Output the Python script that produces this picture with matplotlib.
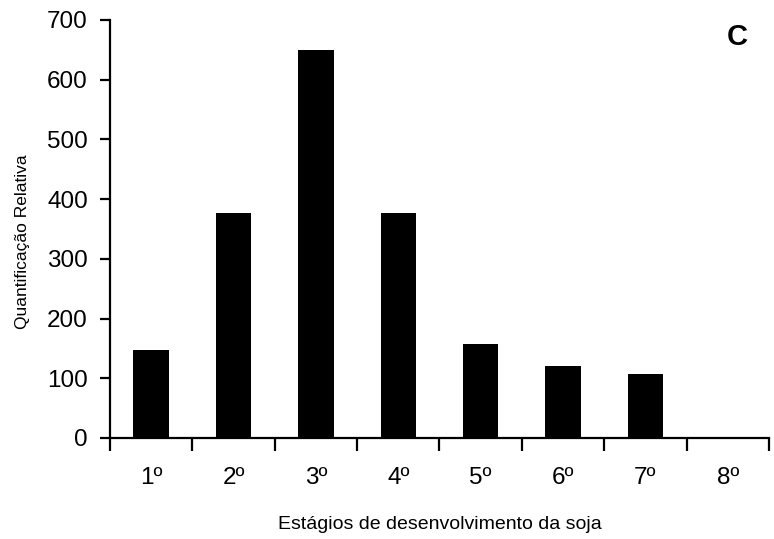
import numpy as np
import matplotlib.pyplot as plt

plt.rcParams['font.family'] = ['Liberation Sans', 'DejaVu Sans']

estagios = ['1º', '2º', '3º', '4º', '5º', '6º', '7º', '8º']
quantificacao = [148, 377, 649, 377, 157, 120, 108, 0]
y_ticks = [0, 100, 200, 300, 400, 500, 600, 700]

fig = plt.figure(figsize=(7.74, 5.39), dpi=100)
ax = fig.add_axes([0.1421, 0.1874, 0.8514, 0.7755])

x = np.arange(len(estagios)) + 0.5
ax.bar(x, quantificacao, width=0.43, color='black')

ax.set_xlim(0, len(estagios))
ax.set_ylim(0, 700)

# tick marks sit on the category boundaries, labels at the centres
ax.set_xticks(np.arange(len(estagios) + 1))
ax.set_xticklabels([])
ax.set_xticks(x, minor=True)
ax.set_xticklabels(estagios, minor=True, fontsize=17.5)
ax.tick_params(axis='x', which='major', direction='out', length=9, width=1.6)
ax.tick_params(axis='x', which='minor', length=0, pad=21)

ax.set_yticks(y_ticks)
ax.set_yticklabels([str(v) for v in y_ticks], fontsize=17.5)
ax.tick_params(axis='y', direction='out', length=7, width=1.6, pad=9)

for side in ['top', 'right']:
    ax.spines[side].set_visible(False)
for side in ['left', 'bottom']:
    ax.spines[side].set_linewidth(1.6)

ax.set_ylabel('Quantificação Relativa', fontsize=12.5)
ax.yaxis.set_label_coords(-0.122, 0.47)
ax.set_xlabel('Estágios de desenvolvimento da soja', fontsize=14, labelpad=19)

fig.text(0.952, 0.931, 'C', fontsize=21, fontweight='bold', ha='center', va='center')

fig.savefig('out.png', dpi=100)
